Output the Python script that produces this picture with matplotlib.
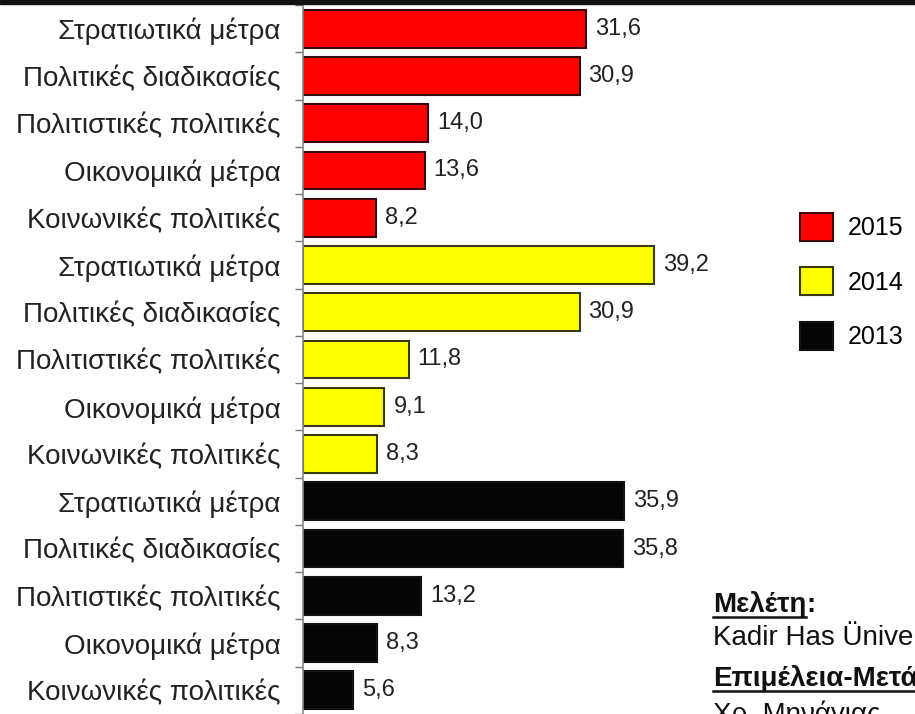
import numpy as np
import matplotlib.pyplot as plt
from matplotlib.patches import Rectangle, Patch
from matplotlib.lines import Line2D

plt.rcParams['font.family'] = ['Liberation Sans', 'DejaVu Sans']

# data
categories = ['Στρατιωτικά μέτρα', 'Πολιτικές διαδικασίες', 'Πολιτιστικές πολιτικές',
              'Οικονομικά μέτρα', 'Κοινωνικές πολιτικές']
years = ['2015', '2014', '2013']
values_2015 = [31.6, 30.9, 14.0, 13.6, 8.2]
values_2014 = [39.2, 30.9, 11.8, 9.1, 8.3]
values_2013 = [35.9, 35.8, 13.2, 8.3, 5.6]
colors = ['#ff0000', '#ffff00', '#050505']
edges = ['#3a0a0a', '#3a3a10', '#111111']

W, H = 915, 714
fig = plt.figure(figsize=(W / 100, H / 100), dpi=100)
ax = fig.add_axes([303 / W, 0, 1 - 303 / W, 1 - 5 / H])

all_vals = [values_2015, values_2014, values_2013]
labels = []
pos = 0
for vals, col, ec in zip(all_vals, colors, edges):
    ys = np.arange(pos, pos + len(vals))
    ax.barh(ys, vals, height=0.8, color=col, edgecolor=ec, linewidth=1.5)
    for y, v in zip(ys, vals):
        ax.text(v + 1.0, y, f'{v:.1f}'.replace('.', ','), va='center', ha='left',
                fontsize=17, color='#222222')
    labels += categories
    pos += len(vals)

n = pos
ax.set_ylim((H - 28.5) / 47.5, -(28.5 - 5) / 47.5)
ax.set_xlim(0, (W - 303) / 8.95)
ax.set_yticks(np.arange(n))
ax.set_yticklabels(labels, fontsize=20, color='#222222')
ax.tick_params(axis='y', which='major', length=0, pad=16)
ax.set_yticks(np.arange(n + 1) - 0.5, minor=True)
ax.tick_params(axis='y', which='minor', length=6, color='#777777', width=1)
ax.set_xticks([])
for s in ['top', 'right', 'bottom']:
    ax.spines[s].set_visible(False)
ax.spines['left'].set_color('#888888')
ax.spines['left'].set_linewidth(1.2)

handles = [Patch(facecolor=c, edgecolor=e, linewidth=1.5) for c, e in zip(colors, edges)]
ax.legend(handles, years, loc='upper left', bbox_to_anchor=(800 / W, 1 - 213 / H),
          bbox_transform=fig.transFigure, frameon=False, fontsize=18,
          handlelength=1.3, handleheight=1.35, labelspacing=1.05, handletextpad=0.6,
          borderpad=0, borderaxespad=0)

# top border
fig.patches.append(Rectangle((0, 1 - 4 / H), 1, 4 / H, transform=fig.transFigure,
                             color='#111111', zorder=10))

notes = [('Μελέτη', ':', 612, True), ('Kadir Has Üniversitesi', '', 645, False),
         ('Επιμέλεια-Μετάφραση', ':', 686, True), ('Χρ. Μηνάγιας', '', 722, False)]
fig.canvas.draw()
r = fig.canvas.get_renderer()
for txt, suf, yp, bold in notes:
    t = fig.text(713 / W, 1 - yp / H, txt, fontsize=20, va='baseline', ha='left',
                 fontweight='bold' if bold else 'normal', color='#111111')
    if bold:
        bb = t.get_window_extent(r)
        fig.text(bb.x1 / W, 1 - yp / H, suf, fontsize=20, va='baseline', ha='left',
                 fontweight='bold', color='#111111')
        fig.lines.append(Line2D([bb.x0 / W, bb.x1 / W], [1 - (yp + 5) / H] * 2,
                                transform=fig.transFigure, color='#111111', lw=1.8))

fig.savefig('out.png', dpi=100)
